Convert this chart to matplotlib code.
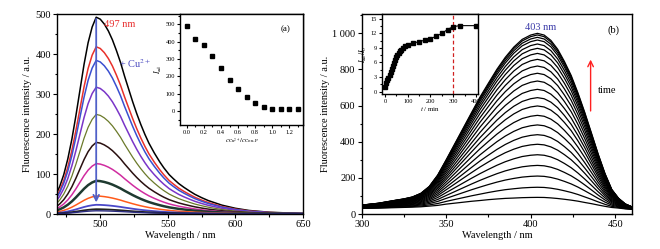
import numpy as np
import matplotlib
matplotlib.use("Agg")
import matplotlib.pyplot as plt
from matplotlib.ticker import MultipleLocator, FuncFormatter

plt.rcParams['font.family'] = ['Liberation Serif', 'DejaVu Serif']
plt.rcParams['mathtext.fontset'] = 'stix'

# ---------------- Panel (a) data ----------------
wl_a = [468, 470, 473, 476, 479, 482, 485, 488, 491, 494, 497, 500, 503, 506, 509,
        512, 515, 518, 521, 524, 527, 530, 533, 536, 540, 544, 547, 551, 554, 558,
        562, 566, 570, 575, 580, 590, 600, 610, 625, 640, 650]
shape_a = [0.11, 0.14, 0.20, 0.28, 0.38, 0.50, 0.63, 0.76, 0.87, 0.95, 1.00, 0.99,
           0.965, 0.93, 0.885, 0.83, 0.77, 0.70, 0.635, 0.57, 0.51, 0.455, 0.405,
           0.36, 0.31, 0.265, 0.235, 0.20, 0.18, 0.155, 0.135, 0.117, 0.10, 0.083,
           0.068, 0.045, 0.029, 0.018, 0.009, 0.005, 0.003]
peaks_a = [492, 418, 384, 317, 249, 179, 126, 83, 45, 23, 12, 8]
colors_a = ['#000000', '#e8302a', '#3a4fd0', '#7a35c8', '#6b7a2a', '#2a1010',
            '#d02ca0', '#1e3a30', '#ff5a1a', '#4a48c8', '#202020', '#2a2a80']
widths_a = [1.1, 1.1, 1.1, 1.1, 0.9, 1.1, 1.1, 1.8, 1.1, 1.3, 1.3, 1.0]

ratio_a = [0.0, 0.1, 0.2, 0.3, 0.4, 0.5, 0.6, 0.7, 0.8, 0.9, 1.0, 1.1, 1.2, 1.3]
iad_a = [490, 415, 380, 318, 248, 178, 125, 83, 45, 22, 12, 12, 12, 12]

# ---------------- Panel (b) data ----------------
wl_b = [300, 310, 320, 325, 330, 335, 340, 345, 350, 355, 360, 365, 370, 375, 380,
        385, 390, 395, 400, 404, 408, 412, 416, 420, 424, 428, 432, 436, 440, 444,
        448, 452, 456, 460]
shape_b = [0.02, 0.03, 0.045, 0.052, 0.062, 0.082, 0.12, 0.185, 0.27, 0.36, 0.45, 0.54,
           0.63, 0.71, 0.79, 0.86, 0.92, 0.965, 0.99, 1.0, 0.99, 0.96, 0.91, 0.84,
           0.76, 0.66, 0.55, 0.43, 0.31, 0.20, 0.11, 0.06, 0.03, 0.015]
base_b = [30, 31, 33, 34, 35, 36, 38, 39, 42, 43, 44, 45, 45, 46, 46, 46, 45, 45,
          45, 45, 45, 44, 43, 42, 41, 40, 38, 37, 35, 33, 31, 30, 27, 25]
peaks_b = [92, 148, 210, 269, 328, 386, 439, 493, 546, 598, 644, 690, 736, 779,
           819, 856, 889, 917, 941, 963, 978, 991, 1000]

t_b = [0, 5, 10, 15, 20, 25, 30, 35, 40, 45, 50, 55, 60, 65, 70, 80, 90, 100, 125,
       150, 175, 200, 225, 250, 275, 300, 330, 400]
ratio_b = [1.0, 1.7, 2.3, 2.9, 3.4, 4.0, 4.6, 5.2, 5.9, 6.6, 7.2, 7.6, 8.0, 8.3, 8.6,
           9.0, 9.4, 9.7, 10.0, 10.3, 10.6, 10.9, 11.4, 12.0, 12.8, 13.4, 13.6, 13.6]

W, H = 660, 249
fig = plt.figure(figsize=(W / 100, H / 100), dpi=100)
fig.patch.set_facecolor('white')


def box(x0, y0, x1, y1):
    return [x0 / W, 1 - y1 / H, (x1 - x0) / W, (y1 - y0) / H]


def style(ax, fs, major=3, minor=1.8):
    ax.tick_params(which='both', direction='out', top=False, right=False,
                   labelsize=fs, width=0.8, pad=1.5)
    ax.tick_params(which='major', length=major)
    ax.tick_params(which='minor', length=minor)
    for s in ax.spines.values():
        s.set_linewidth(1.0)


# ---------------- Left main ----------------
axa = fig.add_axes(box(57, 14, 303, 214))
sa = np.array(shape_a)
for p, c, lw in zip(peaks_a, colors_a, widths_a):
    axa.plot(wl_a, sa * p, color=c, lw=lw)
axa.set_xlim(468, 650)
axa.set_ylim(0, 500)
axa.xaxis.set_major_locator(MultipleLocator(50))
axa.xaxis.set_minor_locator(MultipleLocator(25))
axa.yaxis.set_major_locator(MultipleLocator(100))
axa.yaxis.set_minor_locator(MultipleLocator(50))
style(axa, 7.5)
axa.set_xlabel('Wavelength / nm', fontsize=7.5, labelpad=1)
axa.set_ylabel('Fluorescence intensity / a.u.', fontsize=7.5, labelpad=2)
axa.annotate('', xy=(497, 22), xytext=(497, 495),
             arrowprops=dict(arrowstyle='->', color='#5060c8', lw=1.3))
axa.text(503, 474, '497 nm', color='#e83030', fontsize=7.5, va='center')
axa.text(514, 377, '+ Cu$^{2+}$', color='#4a4ac0', fontsize=7.5, va='center')

# ---------------- Left inset ----------------
ia = fig.add_axes(box(180, 14, 303, 125))
ia.plot(ratio_a, iad_a, 's', color='black', ms=3.2)
ia.set_xlim(-0.08, 1.36)
ia.set_ylim(-80, 560)
ia.xaxis.set_major_locator(MultipleLocator(0.2))
ia.xaxis.set_minor_locator(MultipleLocator(0.1))
ia.yaxis.set_major_locator(MultipleLocator(100))
ia.yaxis.set_minor_locator(MultipleLocator(50))
ia.xaxis.set_major_formatter(FuncFormatter(lambda v, p: f'{v:.1f}'))
style(ia, 4.6, major=2, minor=1.2)
ia.set_ylabel(r'$I_{\rm ad}$', fontsize=5.5, labelpad=1)
ia.set_xlabel(r'$c_{\rm Cu^{2+}}/c_{\rm Cou\text{-}P}$', fontsize=5, labelpad=1)
ia.text(0.86, 0.86, '(a)', transform=ia.transAxes, fontsize=6.5, ha='center', va='center')

# ---------------- Right main ----------------
axb = fig.add_axes(box(361.7, 14, 632, 214))
sb = np.array(shape_b)
bb = np.array(base_b)
for p in peaks_b:
    axb.plot(wl_b, bb + sb * (p - 45), color='black', lw=0.9)
axb.set_xlim(300, 460)
axb.set_ylim(0, 1107)
axb.xaxis.set_major_locator(MultipleLocator(50))
axb.xaxis.set_minor_locator(MultipleLocator(25))
axb.yaxis.set_major_locator(MultipleLocator(200))
axb.yaxis.set_minor_locator(MultipleLocator(100))
axb.yaxis.set_major_formatter(FuncFormatter(
    lambda v, p: f'{int(v):,}'.replace(',', ' ')))
style(axb, 7.5)
axb.set_xlabel('Wavelength / nm', fontsize=7.5, labelpad=1)
axb.set_ylabel('Fluorescence intensity / a.u.', fontsize=7.5, labelpad=2)
axb.text(406, 1033, '403 nm', color='#3a3aa8', fontsize=7.5, ha='center', va='center')
axb.text(0.93, 0.92, '(b)', transform=axb.transAxes, fontsize=7.5, ha='center', va='center')
axb.annotate('', xy=(435.5, 870), xytext=(435.5, 555),
             arrowprops=dict(arrowstyle='->', color='#ff2020', lw=1.0))
axb.text(440, 686, 'time', fontsize=7.5, va='center')

# ---------------- Right inset ----------------
ib = fig.add_axes(box(382, 14, 478, 94))
ib.axvline(300, color='#d02020', ls=(0, (3, 2)), lw=0.9)
ib.plot(t_b, ratio_b, '-s', color='black', ms=2.6, lw=0.8)
ib.set_xlim(-13, 409)
ib.set_ylim(-0.5, 16.0)
ib.xaxis.set_major_locator(MultipleLocator(100))
ib.xaxis.set_minor_locator(MultipleLocator(50))
ib.yaxis.set_major_locator(MultipleLocator(3))
ib.yaxis.set_minor_locator(MultipleLocator(1.5))
style(ib, 4.6, major=2, minor=1.2)
ib.set_ylabel(r'$I_{\rm ad}/I_0$', fontsize=5.5, labelpad=1)
ib.set_xlabel(r'$t$ / min', fontsize=5, labelpad=1)

fig.savefig('out.png', dpi=100, facecolor='white')
